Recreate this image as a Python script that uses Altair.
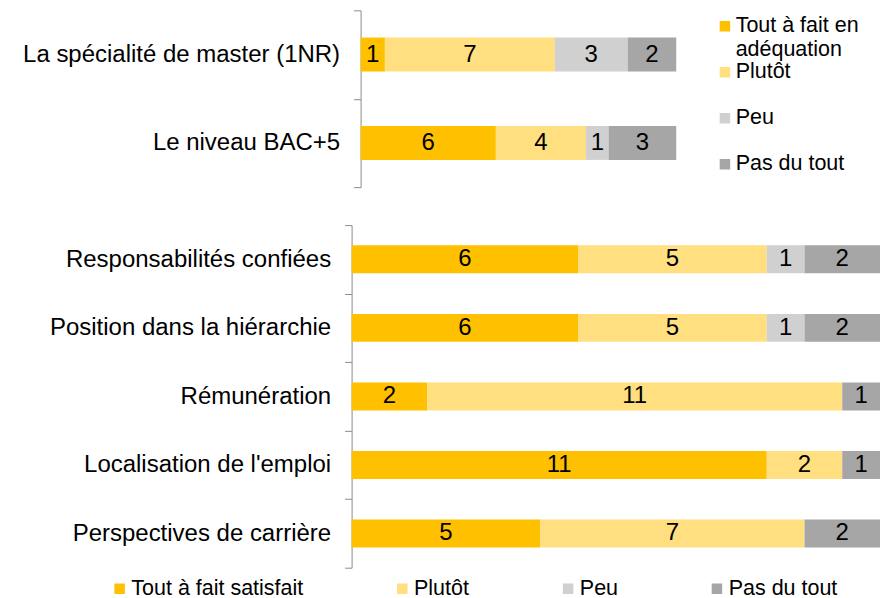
import altair as alt
import pandas as pd

FONT = "Liberation Sans"

levels_top = ["Tout à fait en adéquation", "Plutôt", "Peu", "Pas du tout"]
levels_bottom = ["Tout à fait satisfait", "Plutôt", "Peu", "Pas du tout"]
colors = ["#FFC000", "#FFDF80", "#D0D0D0", "#A6A6A6"]

cats_top = ["La spécialité de master (1NR)", "Le niveau BAC+5"]
top_tout = [1, 6]
top_plutot = [7, 4]
top_peu = [3, 1]
top_pas = [2, 3]

cats_bottom = [
    "Responsabilités confiées",
    "Position dans la hiérarchie",
    "Rémunération",
    "Localisation de l'emploi",
    "Perspectives de carrière",
]
bot_tout = [6, 6, 2, 11, 5]
bot_plutot = [5, 5, 11, 2, 7]
bot_peu = [1, 1, 0, 0, 0]
bot_pas = [2, 2, 1, 1, 2]


def long_df(cats, levels, series):
    rows = []
    for i, c in enumerate(cats):
        for k, (lvl, vals) in enumerate(zip(levels, series)):
            rows.append({"cat": c, "level": lvl, "order": k, "value": vals[i]})
    return pd.DataFrame(rows)


df_top = long_df(cats_top, levels_top, [top_tout, top_plutot, top_peu, top_pas])
df_bot = long_df(cats_bottom, levels_bottom, [bot_tout, bot_plutot, bot_peu, bot_pas])


def panel(df, cats, levels, width, height, bar_size, xrange, axis_offset, legend, label_pad):
    base = (
        alt.Chart(df)
        .transform_filter("datum.value > 0")
        .transform_stack(
            stack="value",
            groupby=["cat"],
            sort=[alt.SortField("order")],
            as_=["v0", "v1"],
            offset="normalize",
        )
        .transform_calculate(mid="(datum.v0 + datum.v1) / 2")
    )
    xscale = alt.Scale(domain=[0, 1], range=xrange)
    yenc = alt.Y(
        "cat:N",
        sort=cats,
        scale=alt.Scale(paddingInner=0, paddingOuter=0),
        axis=alt.Axis(
            title=None,
            offset=axis_offset,
            tickBand="extent",
            tickSize=7,
            tickColor="#8C8C8C",
            domainColor="#8C8C8C",
            labelPadding=label_pad,
            labelLimit=400,
            labelFont=FONT,
            labelFontSize=24,
            labelColor="black",
        ),
    )
    bars = base.mark_bar(size=bar_size).encode(
        x=alt.X("v0:Q", scale=xscale, axis=None),
        x2="v1:Q",
        y=yenc,
        color=alt.Color(
            "level:N",
            scale=alt.Scale(domain=levels, range=colors),
            sort=levels,
            legend=legend,
        ),
    )
    text = base.mark_text(fontSize=24, font=FONT, color="black").encode(
        x=alt.X("mid:Q", scale=xscale, axis=None),
        y=yenc,
        text="value:Q",
    )
    return alt.layer(bars, text).properties(width=width, height=height)


legend_top = alt.Legend(
    title=None,
    orient="none",
    legendX=363,
    legendY=4.5,
    padding=0,
    direction="vertical",
    gridAlign="all",
    symbolType="square",
    symbolSize=110,
    symbolStrokeWidth=0,
    labelFontSize=21.5,
    labelFont=FONT,
    labelColor="black",
    labelOffset=0,
    clipHeight=23,
    rowPadding=0,
    labelLimit=300,
    labelExpr="datum.label == 'Tout à fait en adéquation' ? ['Tout à fait en', 'adéquation'] : datum.label",
)

legend_bot = alt.Legend(
    title=None,
    orient="none",
    legendX=-243,
    legendY=353,
    padding=0,
    direction="horizontal",
    columns=4,
    columnPadding=88,
    symbolType="square",
    symbolSize=110,
    symbolStrokeWidth=0,
    labelFontSize=21.5,
    labelFont=FONT,
    labelColor="black",
    labelOffset=1,
    clipHeight=22,
    labelLimit=300,
)

top = panel(df_top, cats_top, levels_top, 325, 177, 34, [9, 325], -9, legend_top, 14)
bottom = panel(df_bot, cats_bottom, levels_bottom, 529, 343, 28, [0, 529], 0, legend_bot, 14)

chart = (
    alt.vconcat(top, bottom, spacing=38, bounds="flush")
    .resolve_scale(color="independent", x="independent", y="independent")
    .properties(padding={"left": 14, "top": -10, "right": 0, "bottom": 0}, background="white")
    .configure_view(stroke=None)
)

chart.save("out.html", embed_options={"renderer": "svg", "actions": False})
